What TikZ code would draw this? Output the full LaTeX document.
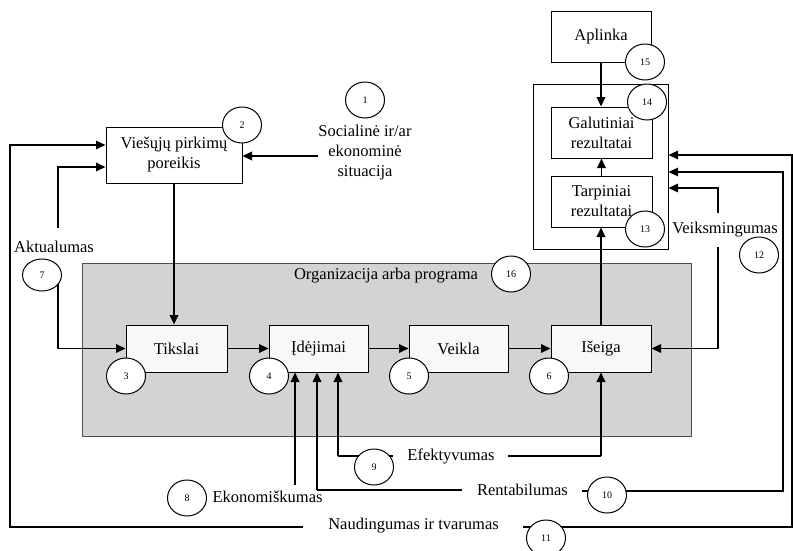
\documentclass[tikz,border=0pt]{standalone}
\usepackage{fontspec}
\setmainfont{Liberation Serif}
\usetikzlibrary{arrows.meta,shapes.geometric}
\definecolor{orggray}{RGB}{211,211,211}
\definecolor{boxfill}{RGB}{248,248,248}
\begin{document}
\begin{tikzpicture}[x=1pt,y=-1pt,
  every node/.style={font=\fontsize{16.5}{20}\selectfont},
  lbl/.style={inner sep=0pt, align=center},
  box/.style={draw=black, line width=1pt, fill=white, inner sep=0pt, align=center},
  inbox/.style={box, fill=boxfill},
  orgbox/.style={draw=black!70, line width=1pt, fill=orggray, inner sep=0pt},
  num/.style={ellipse, draw=black, line width=1pt, fill=white, minimum width=39pt,
    minimum height=36pt, inner sep=0pt, font=\fontsize{10}{11}\selectfont},
  tip/.style={-{Triangle[length=9.5pt,width=8.5pt]}},
  flow/.style={line width=1.8pt, tip},
  thinln/.style={line width=1.2pt},
  midln/.style={line width=1.6pt}
]
\useasboundingbox (0,0) rectangle (793,550);

% organisation / programme area
\node[orgbox, minimum width=609pt, minimum height=173pt] (org) at (386.5,349.5) {};
\node[lbl] (orgt) at (386,276) {Organizacija arba programa};

% boxes
\node[box, minimum width=136pt, minimum height=56pt] (need) at (174,155) {Viešųjų pirkimų\\poreikis};
\node[inbox, minimum width=101pt, minimum height=47pt] (goal) at (176.5,348.5) {Tikslai};
\node[inbox, minimum width=99pt, minimum height=47pt] (inp) at (318.5,348.5) {Įdėjimai};
\node[inbox, minimum width=99pt, minimum height=47pt] (act) at (458.5,348.5) {Veikla};
\node[inbox, minimum width=100pt, minimum height=47pt] (out) at (601,348.5) {Išeiga};
\node[box, minimum width=135pt, minimum height=165pt] (res) at (600.5,166.5) {};
\node[box, minimum width=101pt, minimum height=51pt] (final) at (601.5,132.5) {Galutiniai\\rezultatai};
\node[box, minimum width=101pt, minimum height=51pt] (inter) at (601.5,201.5) {Tarpiniai\\rezultatai};
\node[box, minimum width=100pt, minimum height=51pt] (env) at (601,36.5) {Aplinka};

% labels
\node[lbl] (soc) at (365,153) {Socialinė ir/ar\\ekonominė\\situacija};
\node[lbl] (akt) at (54,247) {Aktualumas};
\node[lbl] (vei) at (725,230) {Veiksmingumas};
\node[lbl] (efe) at (451,456) {Efektyvumas};
\node[lbl] (eko) at (267.5,497) {Ekonomiškumas};
\node[lbl] (ren) at (522.5,490) {Rentabilumas};
\node[lbl] (nau) at (413.5,526) {Naudingumas ir tvarumas};

% free ends of connectors
\coordinate (sitA) at (318,156);
\coordinate (nL) at (303,527);
\coordinate (nLc) at (10,527);
\coordinate (nLt) at (10,145);
\coordinate (nR) at (523,527);
\coordinate (nRc) at (792,527);
\coordinate (nRt) at (792,155);
\coordinate (rL) at (462,490);
\coordinate (rLc) at (317,490);
\coordinate (rR) at (582,491);
\coordinate (rRc) at (783,491);
\coordinate (rRt) at (783,172);
\coordinate (eL) at (393,456);
\coordinate (eLc) at (338,456);
\coordinate (eR) at (508,456);
\coordinate (eRc) at (601,456);
\coordinate (kB) at (295,485);
\coordinate (vT) at (718,213);
\coordinate (vTc) at (718,188);
\coordinate (vB) at (718,247);
\coordinate (vBc) at (718,348.5);
\coordinate (aT) at (58,228);
\coordinate (aTc) at (58,167);
\coordinate (aB) at (58,275);
\coordinate (aBc) at (58,348.5);

% main flow
\draw[flow] (sitA) -- (sitA -| need.east);
\draw[flow] (need.south) -- (need.south |- goal.north);
\draw[flow] (goal) -- (inp);
\draw[flow] (inp) -- (act);
\draw[flow] (act) -- (out);
\draw[flow] (out.north) -- (out.north |- inter.south);
\draw[flow] (inter.north) -- (inter.north |- final.south);
\draw[flow] (env.south) -- (env.south |- final.north);

% relevance
\draw[flow] (aT) -- (aTc) -- (aTc -| need.west);
\draw[flow] (aB) -- (aBc) -- (goal.west);

% economy
\draw[flow] (kB) -- (kB |- inp.south);

% efficiency
\draw[thinln] (eL) -- (eLc);
\draw[flow] (eLc) -- (eLc |- inp.south);
\draw[thinln] (eR) -- (eRc);
\draw[flow] (eRc) -- (out.south);

% cost-effectiveness
\draw[midln] (rL) -- (rLc);
\draw[flow] (rLc) -- (rLc |- inp.south);
\draw[thinln, tip] (rR) -- (rRc) -- (rRt) -- (rRt -| res.east);

% effectiveness
\draw[midln, tip] (vT) -- (vTc) -- (vTc -| res.east);
\draw[midln, tip] (vB) -- (vBc) -- (out.east);

% utility and sustainability
\draw[thinln, tip] (nL) -- (nLc) -- (nLt) -- (nLt -| need.west);
\draw[thinln, tip] (nR) -- (nRc) -- (nRt) -- (nRt -| res.east);

% numbered markers
\node[num] (c1) at (365,100) {1};
\node[num] (c2) at (242,125) {2};
\node[num] (c3) at (126,376) {3};
\node[num] (c4) at (269,376) {4};
\node[num] (c5) at (409,376) {5};
\node[num] (c6) at (549,376) {6};
\node[num, minimum height=32pt] (c7) at (42,275) {7};
\node[num] (c8) at (187,498) {8};
\node[num] (c9) at (374,467) {9};
\node[num] (c10) at (607,495) {10};
\node[num] (c11) at (546,538) {11};
\node[num] (c12) at (759,255) {12};
\node[num] (c13) at (645,229) {13};
\node[num] (c14) at (647,102) {14};
\node[num] (c15) at (645,62) {15};
\node[num] (c16) at (511,274) {16};
\end{tikzpicture}
\end{document}
